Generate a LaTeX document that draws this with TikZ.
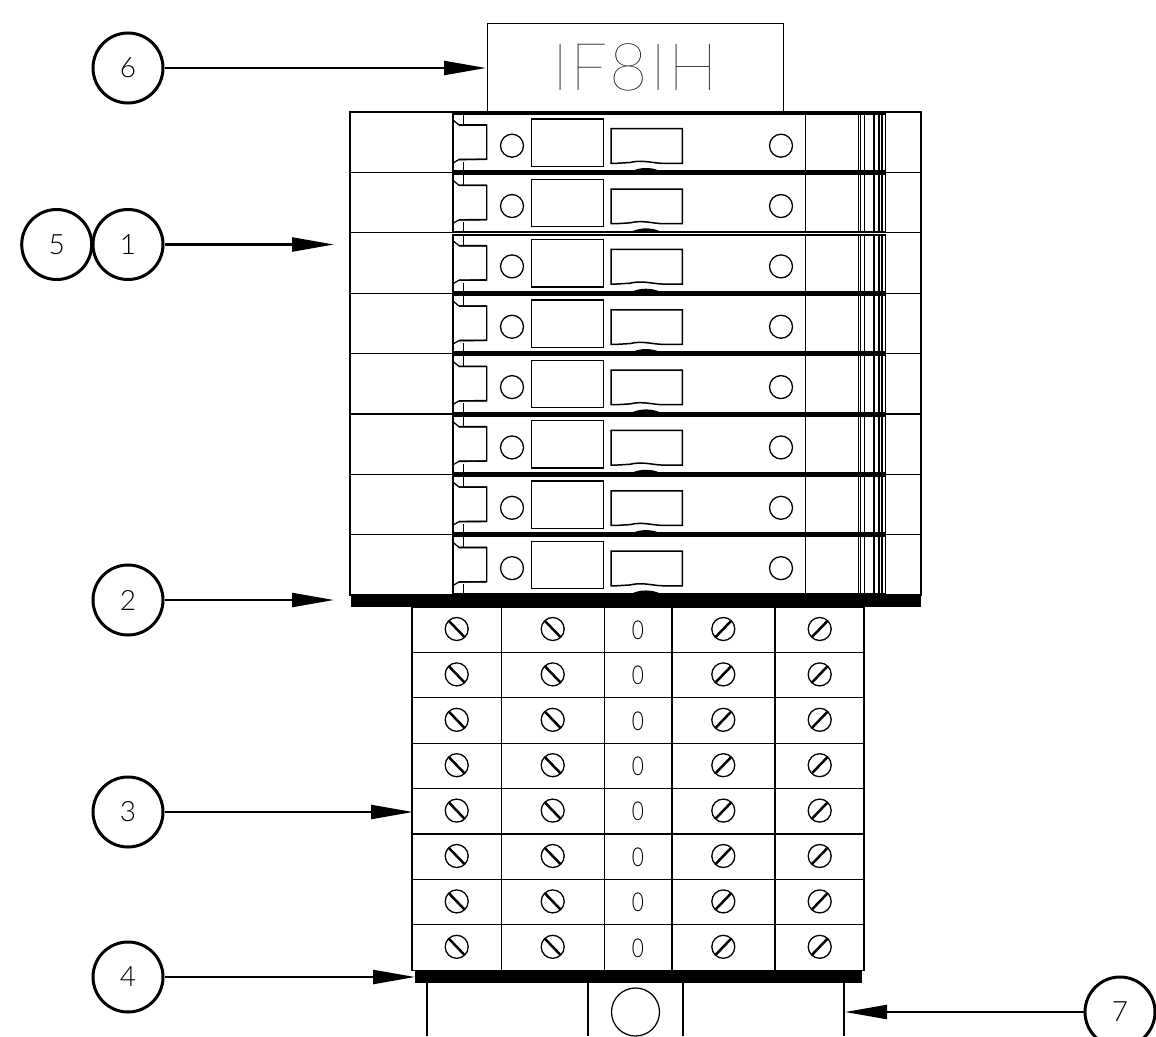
\documentclass[tikz,border=0pt]{standalone}
\usepackage{fontspec}
\usetikzlibrary{arrows.meta}
\newfontfamily\labelfont{Lato}[UprightFont=* Light]
\newfontfamily\thinfont{Lato}[UprightFont=* Thin]
\tikzset{
  x=1pt,y=-1pt,
  callout/.style={circle,draw,line width=3pt,minimum size=70pt,inner sep=0pt,font=\labelfont\fontsize{28}{28}\selectfont,fill=white},
  pointer/.style={line width=2.3pt,-{Triangle[length=42pt,width=14pt]},shorten >=0pt},
  wire/.style={line width=1.25pt,line cap=butt},
  hvy/.style={line width=2pt},
  screw/.style={circle,draw,line width=1.3pt,minimum size=23pt,inner sep=0pt},
  slot/.style={line width=2.5pt},
  zero/.style={inner sep=0pt,font=\labelfont\fontsize{26}{26}\selectfont},
  solid bar/.style={fill=black,draw=none}
}
\begin{document}
\begin{tikzpicture}
\useasboundingbox (0,0) rectangle (1156,1036);
% label box
\node[draw,wire,minimum width=296pt,minimum height=89pt,inner sep=0pt,anchor=north west] (plate) at (487,23) {};
\node[inner sep=0pt,font=\thinfont\fontsize{66}{66}\selectfont] (platetext) at (635,67) {\addfontfeature{LetterSpace=3}IF8IH};
% outer rows
\foreach \i in {0,...,7}{
  \begin{scope}[shift={(0,112+60.4*\i)}]
    \draw[wire] (350,0) rectangle (921,60.4);
  \end{scope}
  \begin{scope}[shift={(0,113+60.35*\i)}]
    \fill[white] (453,0.5) rectangle (886,58);
    \draw[hvy] (453,1) -- (886,1);
    \draw[hvy] (453,58.3) -- (886,58.3);
    \draw[wire] (453,0) -- (453,59);
    \draw[wire] (463.3,0) -- (463.3,12);
    \draw[wire] (463.3,49) -- (463.3,59);
    \draw[wire] (453,7) -- (459,12) -- (486.7,12) -- (486.7,46.3) -- (459,46.5) -- (453,50);
    \draw[line width=1.6pt] (459,12) -- (486.7,12) (459,46.5) -- (486.7,46.3);
    \node[screw] (la\i) at (512,32.7) {};
    \node[screw] (ra\i) at (781,32.7) {};
    \draw[wire] (531.3,6) rectangle (603.3,53.3);
    \draw[line width=1.5pt] (611,50.3) -- (611,15.7) -- (682.3,15.7) -- (682.3,50.3) -- (662,50.3)
      .. controls (652,50) and (642,46.5) .. (630,49.5) -- (617,50.3) -- cycle;
    \fill (632,58) .. controls (640,54) and (652,54) .. (660,58) -- cycle;
    \draw[wire] (805.3,0) -- (805.3,58);
    \draw[line width=1pt] (858,0) -- (858,58) (860.3,0) -- (860.3,58) (864,0) -- (864,58);
    \draw[line width=1.8pt] (874,0) -- (874,58) (879,0) -- (879,58) (881.7,0) -- (881.7,58);
    \draw[wire] (885.7,0) -- (885.7,58);
  \end{scope}
}
% top bar
\fill[solid bar] (350.5,594) rectangle (920.5,607.3);
% terminal block
\foreach \i in {0,...,7}{
  \begin{scope}[shift={(0,607+45.4*\i)}]
    \draw[wire] (412,0) rectangle (864,45.4);
    \draw[wire] (501.7,0) -- (501.7,45.4) (604.3,0) -- (604.3,45.4) (672,0) -- (672,45.4) (775,0) -- (775,45.4);
    \node[screw] (sa\i) at (456.7,22) {};
    \node[screw] (sb\i) at (552.7,22) {};
    \node[screw] (sc\i) at (723.3,22) {};
    \node[screw] (sd\i) at (819.7,22) {};
    \draw[slot] (449,14) -- (464.4,30);
    \draw[slot] (545,14) -- (560.4,30);
    \draw[slot] (715.6,30) -- (731,14);
    \draw[slot] (812,30) -- (827.4,14);
    \node[zero] (z\i) at (638,23) {\scalebox{0.8}[1]{0}};
  \end{scope}
}
% lower bar and base
\fill[solid bar] (414.5,970.5) rectangle (862,982.8);
\draw[wire] (427,983) -- (427,1036) (588,983) -- (588,1036) (683,983) -- (683,1036) (844,983) -- (844,1036);
\node[circle,draw,wire,minimum size=48pt,inner sep=0pt] (basehole) at (635.5,1012) {};
% callouts
\node[callout] (c6) at (128,68) {6};
\node[callout] (c5) at (56.7,244.5) {5};
\node[callout] (c1) at (128,244.5) {1};
\node[callout] (c2) at (128,600) {2};
\node[callout] (c3) at (128,812) {3};
\node[callout] (c4) at (128,977) {4};
\node[callout] (c7) at (1120,1012) {7};
\coordinate (t6) at (486,68);
\coordinate (t1) at (334,244.5);
\coordinate (t2) at (334,600);
\coordinate (t3) at (413,812);
\coordinate (t4) at (415,977);
\coordinate (t7) at (845,1012);
\draw[pointer] (c6) -- (t6);
\draw[pointer] (c1) -- (t1);
\draw[pointer] (c2) -- (t2);
\draw[pointer] (c3) -- (t3);
\draw[pointer] (c4) -- (t4);
\draw[pointer] (c7) -- (t7);
\end{tikzpicture}
\end{document}
